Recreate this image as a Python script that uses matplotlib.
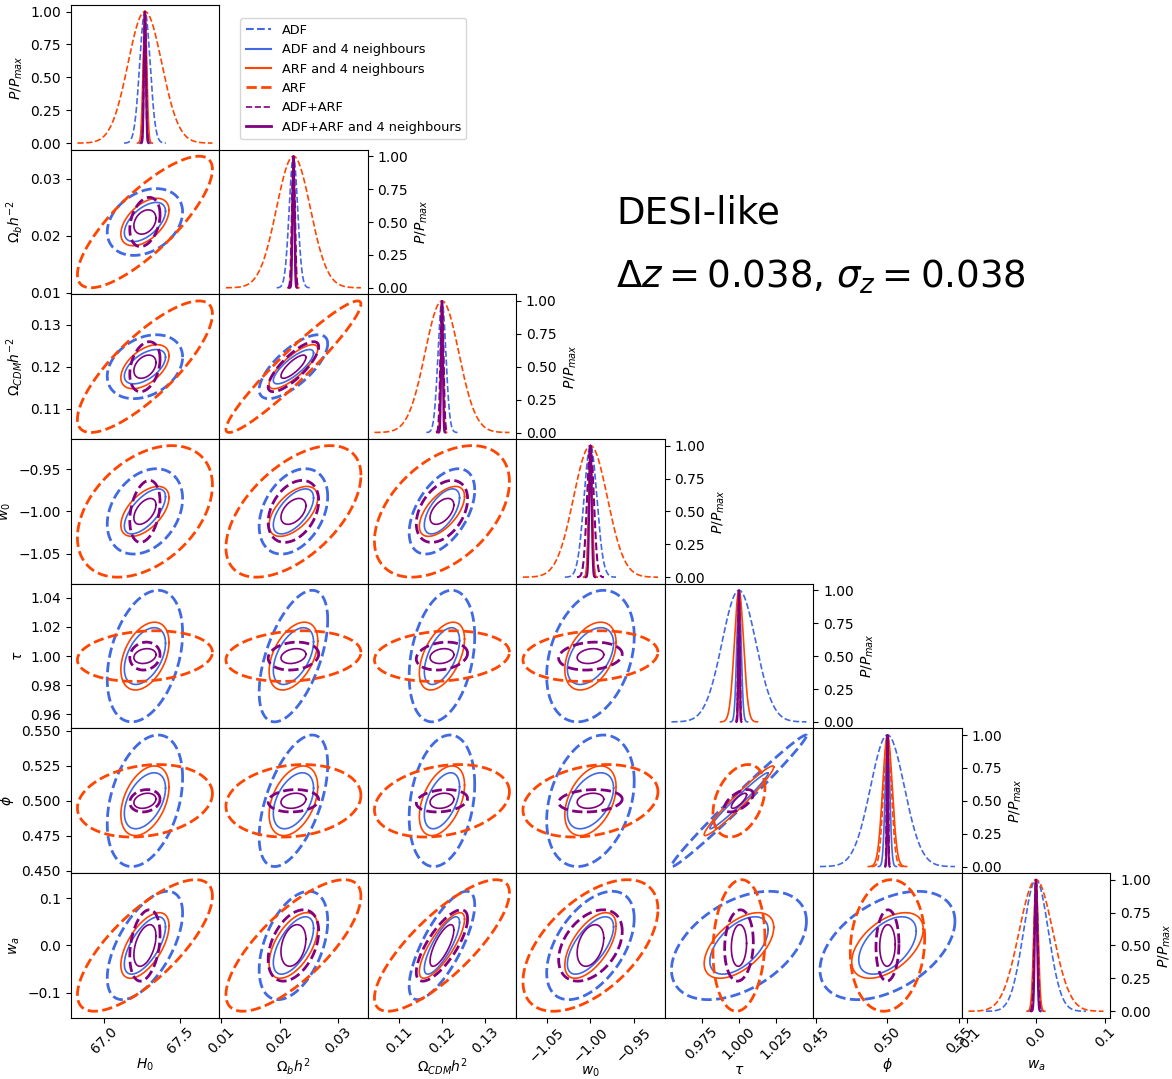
import numpy as np
import matplotlib.pyplot as plt
from matplotlib.lines import Line2D

# parameters, axis labels and fiducial values
x_labels = [r"$H_0$", r"$\Omega_b h^2$", r"$\Omega_{CDM} h^2$", r"$w_0$",
            r"$\tau$", r"$\phi$", r"$w_a$"]
y_labels = [r"$P/P_{max}$", r"$\Omega_b h^{-2}$", r"$\Omega_{CDM} h^{-2}$",
            r"$w_0$", r"$\tau$", r"$\phi$", r"$w_a$"]
fiducial = [67.27, 0.02237, 0.1200, -1.0, 1.0, 0.5, 0.0]

# forecasts, in legend order
names = ["ADF", "ADF and 4 neighbours", "ARF and 4 neighbours", "ARF",
         "ADF+ARF", "ADF+ARF and 4 neighbours"]

# marginalised 2D errors (half extent of the drawn contour)
err_adf = [0.249, 0.00586, 0.00763, 0.0504, 0.0452, 0.0470, 0.1148]
err_adf4 = [0.136, 0.00344, 0.00410, 0.0266, 0.0195, 0.0200, 0.0608]
err_arf4 = [0.159, 0.00416, 0.00526, 0.0295, 0.0233, 0.0249, 0.0695]
err_arf = [0.446, 0.01154, 0.01571, 0.0777, 0.0174, 0.0259, 0.1394]
err_aa = [0.100, 0.00432, 0.00597, 0.0366, 0.0096, 0.0080, 0.0756]
err_aa4 = [0.073, 0.00213, 0.00277, 0.0153, 0.0051, 0.0054, 0.0441]

# correlation coefficients, one per lower-triangle panel
pairs = [(1, 0), (2, 0), (2, 1), (3, 0), (3, 1), (3, 2), (4, 0), (4, 1),
         (4, 2), (4, 3), (5, 0), (5, 1), (5, 2), (5, 3), (5, 4), (6, 0),
         (6, 1), (6, 2), (6, 3), (6, 4), (6, 5)]
rho_adf = [0.30, 0.30, 0.72, 0.30, 0.35, 0.50, 0.35, 0.55, 0.30, 0.30, 0.35,
           0.55, 0.25, 0.30, 0.99, 0.60, 0.45, 0.75, 0.50, 0.45, 0.45]
rho_adf4 = [0.55, 0.55, 0.80, 0.65, 0.60, 0.60, 0.45, 0.50, 0.55, 0.45, 0.45,
            0.45, 0.50, 0.45, 0.98, 0.65, 0.60, 0.80, 0.65, 0.55, 0.50]
rho_arf4 = [0.50, 0.50, 0.80, 0.55, 0.55, 0.60, 0.40, 0.45, 0.50, 0.40, 0.40,
            0.40, 0.45, 0.40, 0.97, 0.60, 0.55, 0.80, 0.60, 0.55, 0.50]
rho_arf = [0.80, 0.80, 0.95, 0.40, 0.55, 0.45, 0.15, 0.15, 0.15, 0.15, 0.20,
           0.15, 0.25, 0.25, 0.35, 0.75, 0.75, 0.80, 0.55, 0.10, 0.10]
rho_aa = [0.30, 0.30, 0.80, 0.30, 0.35, 0.40, 0.10, 0.15, 0.20, 0.15, 0.15,
          0.10, 0.20, 0.15, 0.60, 0.30, 0.40, 0.75, 0.40, 0.10, 0.05]
rho_aa4 = [0.30, 0.35, 0.80, 0.50, 0.45, 0.50, 0.20, 0.25, 0.20, 0.20, 0.25,
           0.20, 0.20, 0.20, 0.80, 0.45, 0.30, 0.75, 0.35, 0.10, 0.05]

# unmarginalised 1D errors used for the diagonal panels
sig1d_adf = [0.034, 0.00072, 0.0009, 0.0072, 0.0110, 0.0120, 0.0180]
sig1d_adf4 = [0.009, 0.00020, 0.00023, 0.0019, 0.0014, 0.0016, 0.0027]
sig1d_arf4 = [0.012, 0.00023, 0.00027, 0.0019, 0.0030, 0.0034, 0.0032]
sig1d_arf = [0.110, 0.00290, 0.0039, 0.0190, 0.0006, 0.0028, 0.0243]
sig1d_aa = [0.007, 0.00025, 0.00035, 0.0038, 0.0005, 0.0005, 0.0022]
sig1d_aa4 = [0.006, 0.00015, 0.00018, 0.0013, 0.0004, 0.0004, 0.0016]

errs = [err_adf, err_adf4, err_arf4, err_arf, err_aa, err_aa4]
rhos = [rho_adf, rho_adf4, rho_arf4, rho_arf, rho_aa, rho_aa4]
sig1d = [sig1d_adf, sig1d_adf4, sig1d_arf4, sig1d_arf, sig1d_aa, sig1d_aa4]

colors = ["royalblue", "royalblue", "orangered", "orangered", "purple", "purple"]
styles = ["--", "-", "-", "--", "--", "-"]
lw_2d = [2.0, 1.2, 1.2, 2.0, 2.0, 1.2]
lw_1d = [1.2, 1.2, 1.2, 1.2, 1.5, 1.5]
lw_leg = [1.5, 1.5, 1.5, 2.0, 1.2, 2.0]

n = len(fiducial)
fig, axes = plt.subplots(n, n, figsize=(11.72, 10.79), dpi=100)
fig.subplots_adjust(left=0.0603, right=0.9473, bottom=0.0567, top=0.9954,
                    wspace=0, hspace=0)

t = np.linspace(0, 2 * np.pi, 300)


def bottom_axis(ax, label):
    ax.set_xlabel(label, labelpad=0)
    ax.tick_params(axis="x", pad=1.5)
    plt.setp(ax.get_xticklabels(), rotation=45)


for i in range(n):
    for j in range(n):
        ax = axes[i, j]
        if j > i:
            ax.remove()
            continue
        if i == j:
            mu = fiducial[i]
            for k in range(len(names)):
                s = sig1d[k][i]
                x = np.linspace(mu - 4 * s, mu + 4 * s, 400)
                ax.plot(x, np.exp(-0.5 * ((x - mu) / s) ** 2), color=colors[k],
                        ls=styles[k], lw=lw_1d[k])
            ax.set_yticks([0, 0.25, 0.5, 0.75, 1.0])
            if i > 0:
                ax.yaxis.tick_right()
                ax.yaxis.set_label_position("right")
            ax.set_ylabel(r"$P/P_{max}$")
            if i < n - 1:
                ax.set_xticks([])
            else:
                bottom_axis(ax, x_labels[j])
            continue

        # 2D contour for parameter j (x) against parameter i (y)
        p = pairs.index((i, j))
        for k in range(len(names)):
            sx, sy = errs[k][j], errs[k][i]
            r = rhos[k][p]
            cov = np.array([[sx * sx, r * sx * sy], [r * sx * sy, sy * sy]])
            L = np.linalg.cholesky(cov)
            pts = L @ np.vstack([np.cos(t), np.sin(t)])
            ax.plot(fiducial[j] + pts[0], fiducial[i] + pts[1], color=colors[k],
                    ls=styles[k], lw=lw_2d[k])
        if j == 0:
            ax.set_ylabel(y_labels[i])
        else:
            ax.set_yticks([])
        if i == n - 1:
            bottom_axis(ax, x_labels[j])
        else:
            ax.set_xticks([])

handles = [Line2D([], [], color=colors[k], ls=styles[k], lw=lw_leg[k])
           for k in range(len(names))]
fig.legend(handles, names, loc="upper left", fontsize=9.3,
           bbox_to_anchor=(234 / 1172, 1 - 12 / 1079))

fig.text(616 / 1172, 1 - 223 / 1079, "DESI-like", fontsize=26.7, va="baseline")
fig.text(616 / 1172, 1 - 288 / 1079, r"$\Delta z = 0.038$, $\sigma_z = 0.038$",
         fontsize=26.7, va="baseline")

fig.savefig("out.png", dpi=100)
